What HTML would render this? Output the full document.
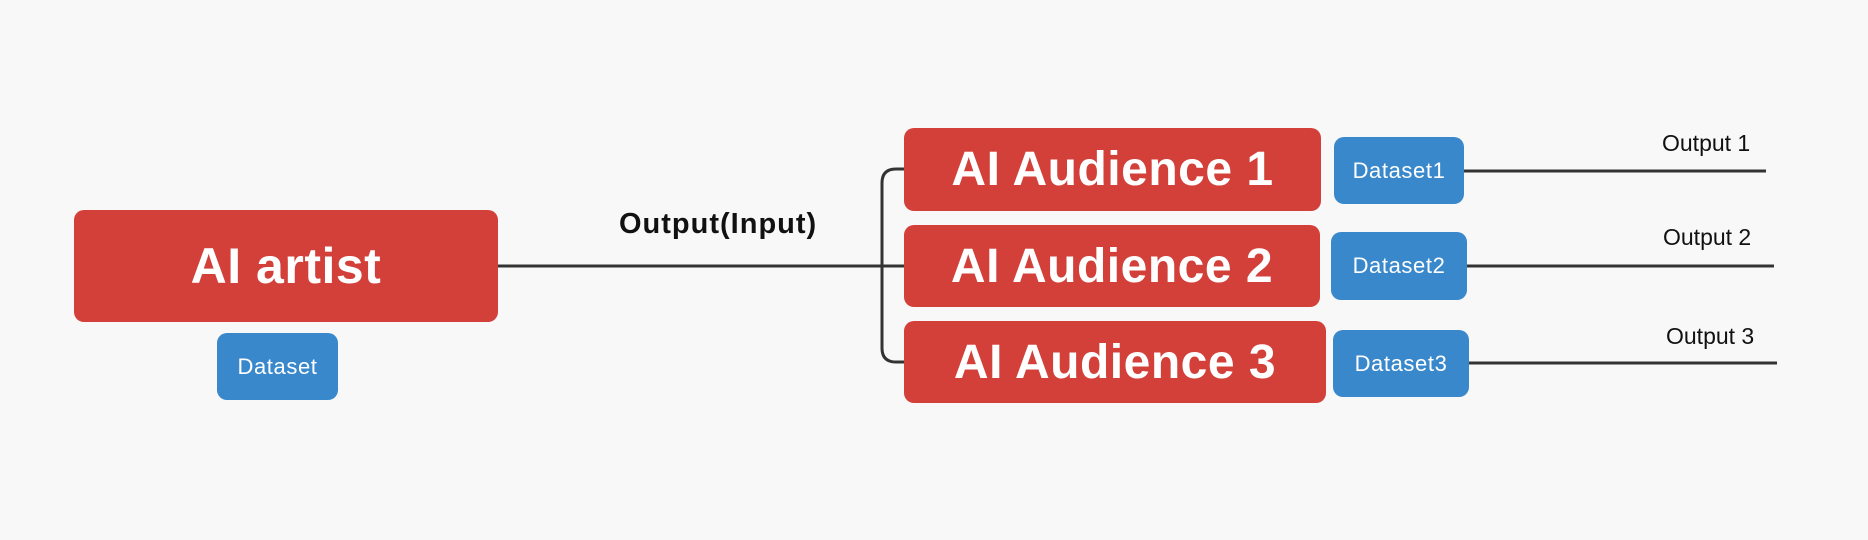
<!DOCTYPE html>
<html><head><style>
html,body{margin:0;padding:0;}
body{width:1868px;height:540px;background:#f8f8f8;position:relative;overflow:hidden;font-family:"Liberation Sans",sans-serif;}
.r{position:absolute;background:#d3403a;border-radius:10px;color:#fff;font-weight:bold;display:flex;align-items:center;justify-content:center;letter-spacing:0.5px;}
.b{position:absolute;background:#3a88cc;border-radius:10px;color:#fff;font-size:22px;letter-spacing:0.6px;display:flex;align-items:center;justify-content:center;}
.t{position:absolute;color:#111;white-space:nowrap;}
svg{position:absolute;left:0;top:0;}
</style></head><body>
<svg width="1868" height="540">
<g stroke="#333" stroke-width="3" fill="none">
<line x1="498" y1="266" x2="904" y2="266"/>
<path d="M904 169 H896 Q882 169 882 183 V348 Q882 362 896 362 H904"/>
<line x1="1463" y1="171" x2="1766" y2="171"/>
<line x1="1467" y1="266" x2="1774" y2="266"/>
<line x1="1469" y1="363" x2="1777" y2="363"/>
</g>
</svg>
<div class="r" style="left:74px;top:210px;width:424px;height:112px;font-size:50px;">AI artist</div>
<div class="b" style="left:217px;top:333px;width:121px;height:67px;">Dataset</div>
<div class="t" style="left:619px;top:208px;font-size:29px;font-weight:bold;letter-spacing:1px;">Output(Input)</div>
<div class="r" style="left:904px;top:128px;width:417px;height:83px;font-size:48px;">AI Audience 1</div>
<div class="r" style="left:904px;top:225px;width:416px;height:82px;font-size:48px;">AI Audience 2</div>
<div class="r" style="left:904px;top:321px;width:422px;height:82px;font-size:48px;">AI Audience 3</div>
<div class="b" style="left:1334px;top:137px;width:130px;height:67px;">Dataset1</div>
<div class="b" style="left:1331px;top:232px;width:136px;height:68px;">Dataset2</div>
<div class="b" style="left:1333px;top:330px;width:136px;height:67px;">Dataset3</div>
<div class="t" style="left:1662px;top:130px;font-size:23px;">Output 1</div>
<div class="t" style="left:1663px;top:224px;font-size:23px;">Output 2</div>
<div class="t" style="left:1666px;top:323px;font-size:23px;">Output 3</div>
</body></html>
